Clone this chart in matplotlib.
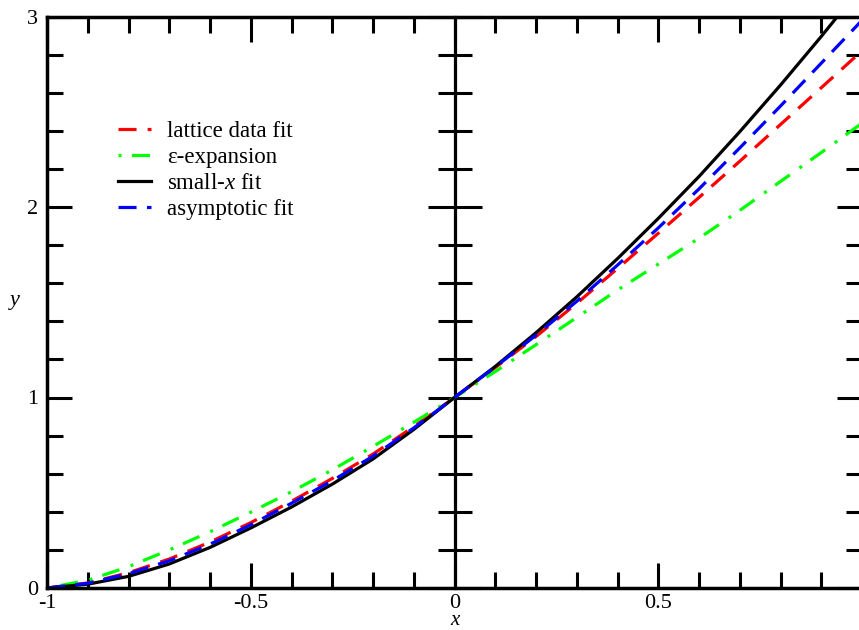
import matplotlib
matplotlib.use("Agg")
import matplotlib.pyplot as plt
from matplotlib.ticker import MultipleLocator, FixedLocator, FixedFormatter

plt.rcParams['font.family'] = ['Liberation Serif', 'DejaVu Serif']
plt.rcParams['mathtext.fontset'] = 'custom'
plt.rcParams['mathtext.rm'] = 'Liberation Serif'
plt.rcParams['mathtext.it'] = 'Liberation Serif:italic'
plt.rcParams['axes.unicode_minus'] = False
plt.rcParams['lines.scale_dashes'] = False

# ---- data ----
x_vals = [-1.0, -0.9, -0.8, -0.7, -0.6, -0.5, -0.4, -0.3, -0.2, -0.1, 0.0,
          0.1, 0.2, 0.3, 0.4, 0.5, 0.6, 0.7, 0.8, 0.9, 1.0]
lattice_fit = [0.0, 0.026, 0.080, 0.152, 0.241, 0.343, 0.455, 0.575, 0.703, 0.847, 1.0,
               1.157, 1.320, 1.494, 1.677, 1.862, 2.050, 2.240, 2.433, 2.626, 2.820]
eps_expansion = [0.0, 0.040, 0.112, 0.200, 0.295, 0.398, 0.505, 0.620, 0.743, 0.870, 1.0,
                 1.136, 1.277, 1.420, 1.564, 1.700, 1.836, 1.982, 2.134, 2.286, 2.440]
small_x_fit = [0.0, 0.020, 0.061, 0.126, 0.213, 0.315, 0.425, 0.545, 0.677, 0.832, 1.0,
               1.163, 1.340, 1.528, 1.729, 1.940, 2.160, 2.395, 2.640, 2.895, 3.160]
asymptotic_fit = [0.0, 0.025, 0.075, 0.143, 0.230, 0.332, 0.445, 0.563, 0.692, 0.840, 1.0,
                  1.160, 1.327, 1.505, 1.695, 1.890, 2.095, 2.310, 2.530, 2.755, 2.980]

labels = ['lattice data fit', 'ε-expansion', 'small-$x$ fit', 'asymptotic fit']
x_major = [-1.0, -0.5, 0.0, 0.5]
x_major_labels = ['-1', '-0.5', '0', '0.5']
y_major = [0, 1, 2, 3]
y_major_labels = ['0', '1', '2', '3']

W, H = 859, 630
fig = plt.figure(figsize=(W / 100, H / 100), dpi=100)
rect = [47 / W, 42 / H, 815 / W, 571.5 / H]

# centre axis line at x = 0 with ticks on both sides
ax2 = fig.add_axes(rect)
ax2.set_xlim(-1, 1)
ax2.set_ylim(0, 3)
ax2.patch.set_visible(False)
for s in ['right', 'top', 'bottom']:
    ax2.spines[s].set_visible(False)
ax2.spines['left'].set_position(('data', 0))
ax2.spines['left'].set_linewidth(2.3)
ax2.set_xticks([])
ax2.yaxis.set_major_locator(FixedLocator(y_major))
ax2.yaxis.set_minor_locator(MultipleLocator(0.2))
ax2.tick_params(axis='y', which='major', direction='inout', length=39, width=2.2,
                labelleft=False)
ax2.tick_params(axis='y', which='minor', direction='inout', length=24.5, width=2.2)
ax2.set_zorder(0)

ax = fig.add_axes(rect)
ax.set_zorder(1)
ax.patch.set_visible(False)

lw = 2.3
ax.plot(x_vals, lattice_fit, color='#ff0000', lw=lw, ls=(0, (13, 8)),
        dash_capstyle='butt', label=labels[0])
ax.plot(x_vals, eps_expansion, color='#00ff00', lw=lw, ls=(0, (2.2, 7.5, 13, 8.5)),
        dash_capstyle='butt', label=labels[1])
ax.plot(x_vals, small_x_fit, color='#000000', lw=lw, ls='-', label=labels[2])
ax.plot(x_vals, asymptotic_fit, color='#0000ff', lw=lw, ls=(0, (13, 7.5)),
        dash_capstyle='butt', label=labels[3])

ax.set_xlim(-1, 1)
ax.set_ylim(0, 3)
for s in ax.spines.values():
    s.set_linewidth(2.5)

ax.xaxis.set_major_locator(FixedLocator(x_major))
ax.xaxis.set_major_formatter(FixedFormatter(x_major_labels))
ax.xaxis.set_minor_locator(MultipleLocator(0.1))
ax.yaxis.set_major_locator(FixedLocator(y_major))
ax.yaxis.set_major_formatter(FixedFormatter(y_major_labels))
ax.yaxis.set_minor_locator(MultipleLocator(0.2))
ax.tick_params(which='both', direction='in', top=True, right=True, width=2.2,
               labelsize=16)
ax.tick_params(which='major', length=18)
ax.tick_params(which='minor', length=11.5)
ax.tick_params(axis='x', pad=4.5)
ax.tick_params(axis='y', pad=6.5)

ax.set_xlabel('x', fontsize=15, style='italic')
ax.xaxis.set_label_coords(455 / W, (H - 625) / H, transform=fig.transFigure)
ax.xaxis.label.set_va('baseline')
ax.set_ylabel('y', fontsize=16, style='italic', rotation=0)
ax.yaxis.set_label_coords(14.5 / W, (H - 305) / H, transform=fig.transFigure)
ax.yaxis.label.set_va('baseline')
ax.yaxis.label.set_ha('center')

ax.legend(loc='upper left', bbox_to_anchor=(118 / W, (H - 120.5) / H),
          bbox_transform=fig.transFigure, frameon=False, fontsize=16.5,
          borderpad=0, borderaxespad=0, handlelength=1.44, handletextpad=0.70,
          labelspacing=0.22)

fig.savefig('out.png', dpi=100)
